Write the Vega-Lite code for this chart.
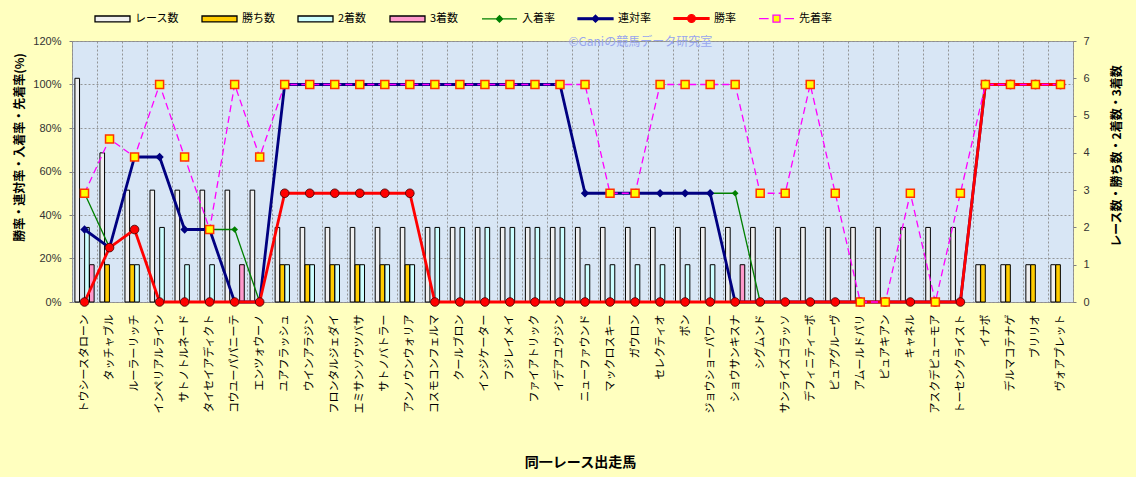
{
  "$schema": "https://vega.github.io/schema/vega-lite/v6.json",
  "width": 1001,
  "height": 261,
  "autosize": {"type": "none"},
  "padding": {"left": 72, "top": 41, "right": 63, "bottom": 175},
  "background": "#ffffbf",
  "config": {
    "view": {"fill": "#d8e6f5", "stroke": "#9a9a9a", "strokeWidth": 1},
    "font": "Noto Sans CJK JP"
  },
  "datasets": {
    "counts": [
      {"horse": "トウシースタローン", "series": "レース数", "value": 6},
      {"horse": "トウシースタローン", "series": "2着数", "value": 2},
      {"horse": "トウシースタローン", "series": "3着数", "value": 1},
      {"horse": "タッチャブル", "series": "レース数", "value": 4},
      {"horse": "タッチャブル", "series": "勝ち数", "value": 1},
      {"horse": "ルーラーリッチ", "series": "レース数", "value": 3},
      {"horse": "ルーラーリッチ", "series": "勝ち数", "value": 1},
      {"horse": "ルーラーリッチ", "series": "2着数", "value": 1},
      {"horse": "インペリアルライン", "series": "レース数", "value": 3},
      {"horse": "インペリアルライン", "series": "2着数", "value": 2},
      {"horse": "サトノトルネード", "series": "レース数", "value": 3},
      {"horse": "サトノトルネード", "series": "2着数", "value": 1},
      {"horse": "タイセイアディクト", "series": "レース数", "value": 3},
      {"horse": "タイセイアディクト", "series": "2着数", "value": 1},
      {"horse": "コウユーパパニーテ", "series": "レース数", "value": 3},
      {"horse": "コウユーパパニーテ", "series": "3着数", "value": 1},
      {"horse": "エンツォウーノ", "series": "レース数", "value": 3},
      {"horse": "ユアフラッシュ", "series": "レース数", "value": 2},
      {"horse": "ユアフラッシュ", "series": "勝ち数", "value": 1},
      {"horse": "ユアフラッシュ", "series": "2着数", "value": 1},
      {"horse": "ウインアラジン", "series": "レース数", "value": 2},
      {"horse": "ウインアラジン", "series": "勝ち数", "value": 1},
      {"horse": "ウインアラジン", "series": "2着数", "value": 1},
      {"horse": "フロンタルジェダイ", "series": "レース数", "value": 2},
      {"horse": "フロンタルジェダイ", "series": "勝ち数", "value": 1},
      {"horse": "フロンタルジェダイ", "series": "2着数", "value": 1},
      {"horse": "エミサンソウツバサ", "series": "レース数", "value": 2},
      {"horse": "エミサンソウツバサ", "series": "勝ち数", "value": 1},
      {"horse": "エミサンソウツバサ", "series": "2着数", "value": 1},
      {"horse": "サトノバトラー", "series": "レース数", "value": 2},
      {"horse": "サトノバトラー", "series": "勝ち数", "value": 1},
      {"horse": "サトノバトラー", "series": "2着数", "value": 1},
      {"horse": "アンノウンウォリア", "series": "レース数", "value": 2},
      {"horse": "アンノウンウォリア", "series": "勝ち数", "value": 1},
      {"horse": "アンノウンウォリア", "series": "2着数", "value": 1},
      {"horse": "コスモコンフェルマ", "series": "レース数", "value": 2},
      {"horse": "コスモコンフェルマ", "series": "2着数", "value": 2},
      {"horse": "クールブロン", "series": "レース数", "value": 2},
      {"horse": "クールブロン", "series": "2着数", "value": 2},
      {"horse": "インジケーター", "series": "レース数", "value": 2},
      {"horse": "インジケーター", "series": "2着数", "value": 2},
      {"horse": "フジレイメイ", "series": "レース数", "value": 2},
      {"horse": "フジレイメイ", "series": "2着数", "value": 2},
      {"horse": "ファイアトリック", "series": "レース数", "value": 2},
      {"horse": "ファイアトリック", "series": "2着数", "value": 2},
      {"horse": "イデアユウジン", "series": "レース数", "value": 2},
      {"horse": "イデアユウジン", "series": "2着数", "value": 2},
      {"horse": "ニューファウンド", "series": "レース数", "value": 2},
      {"horse": "ニューファウンド", "series": "2着数", "value": 1},
      {"horse": "マックロスキー", "series": "レース数", "value": 2},
      {"horse": "マックロスキー", "series": "2着数", "value": 1},
      {"horse": "ガウロン", "series": "レース数", "value": 2},
      {"horse": "ガウロン", "series": "2着数", "value": 1},
      {"horse": "セレクティオ", "series": "レース数", "value": 2},
      {"horse": "セレクティオ", "series": "2着数", "value": 1},
      {"horse": "ボン", "series": "レース数", "value": 2},
      {"horse": "ボン", "series": "2着数", "value": 1},
      {"horse": "ジョウショーパワー", "series": "レース数", "value": 2},
      {"horse": "ジョウショーパワー", "series": "2着数", "value": 1},
      {"horse": "ショウサンキスナ", "series": "レース数", "value": 2},
      {"horse": "ショウサンキスナ", "series": "3着数", "value": 1},
      {"horse": "シグムンド", "series": "レース数", "value": 2},
      {"horse": "サンライズゴラッソ", "series": "レース数", "value": 2},
      {"horse": "デフィニティーボ", "series": "レース数", "value": 2},
      {"horse": "ピュアグルーヴ", "series": "レース数", "value": 2},
      {"horse": "アムールドパリ", "series": "レース数", "value": 2},
      {"horse": "ピュアキアン", "series": "レース数", "value": 2},
      {"horse": "キャネル", "series": "レース数", "value": 2},
      {"horse": "アスクデピューモア", "series": "レース数", "value": 2},
      {"horse": "トーセンクライスト", "series": "レース数", "value": 2},
      {"horse": "イナボ", "series": "レース数", "value": 1},
      {"horse": "イナボ", "series": "勝ち数", "value": 1},
      {"horse": "デルマコテナゲ", "series": "レース数", "value": 1},
      {"horse": "デルマコテナゲ", "series": "勝ち数", "value": 1},
      {"horse": "ブリリオ", "series": "レース数", "value": 1},
      {"horse": "ブリリオ", "series": "勝ち数", "value": 1},
      {"horse": "ヴォアプレット", "series": "レース数", "value": 1},
      {"horse": "ヴォアプレット", "series": "勝ち数", "value": 1}
    ],
    "rates": [
      {"horse": "トウシースタローン", "series": "入着率", "value": 0.5},
      {"horse": "トウシースタローン", "series": "連対率", "value": 0.3333},
      {"horse": "トウシースタローン", "series": "勝率", "value": 0},
      {"horse": "トウシースタローン", "series": "先着率", "value": 0.5},
      {"horse": "タッチャブル", "series": "入着率", "value": 0.25},
      {"horse": "タッチャブル", "series": "連対率", "value": 0.25},
      {"horse": "タッチャブル", "series": "勝率", "value": 0.25},
      {"horse": "タッチャブル", "series": "先着率", "value": 0.75},
      {"horse": "ルーラーリッチ", "series": "入着率", "value": 0.6667},
      {"horse": "ルーラーリッチ", "series": "連対率", "value": 0.6667},
      {"horse": "ルーラーリッチ", "series": "勝率", "value": 0.3333},
      {"horse": "ルーラーリッチ", "series": "先着率", "value": 0.6667},
      {"horse": "インペリアルライン", "series": "入着率", "value": 0.6667},
      {"horse": "インペリアルライン", "series": "連対率", "value": 0.6667},
      {"horse": "インペリアルライン", "series": "勝率", "value": 0},
      {"horse": "インペリアルライン", "series": "先着率", "value": 1},
      {"horse": "サトノトルネード", "series": "入着率", "value": 0.3333},
      {"horse": "サトノトルネード", "series": "連対率", "value": 0.3333},
      {"horse": "サトノトルネード", "series": "勝率", "value": 0},
      {"horse": "サトノトルネード", "series": "先着率", "value": 0.6667},
      {"horse": "タイセイアディクト", "series": "入着率", "value": 0.3333},
      {"horse": "タイセイアディクト", "series": "連対率", "value": 0.3333},
      {"horse": "タイセイアディクト", "series": "勝率", "value": 0},
      {"horse": "タイセイアディクト", "series": "先着率", "value": 0.3333},
      {"horse": "コウユーパパニーテ", "series": "入着率", "value": 0.3333},
      {"horse": "コウユーパパニーテ", "series": "連対率", "value": 0},
      {"horse": "コウユーパパニーテ", "series": "勝率", "value": 0},
      {"horse": "コウユーパパニーテ", "series": "先着率", "value": 1},
      {"horse": "エンツォウーノ", "series": "入着率", "value": 0},
      {"horse": "エンツォウーノ", "series": "連対率", "value": 0},
      {"horse": "エンツォウーノ", "series": "勝率", "value": 0},
      {"horse": "エンツォウーノ", "series": "先着率", "value": 0.6667},
      {"horse": "ユアフラッシュ", "series": "入着率", "value": 1},
      {"horse": "ユアフラッシュ", "series": "連対率", "value": 1},
      {"horse": "ユアフラッシュ", "series": "勝率", "value": 0.5},
      {"horse": "ユアフラッシュ", "series": "先着率", "value": 1},
      {"horse": "ウインアラジン", "series": "入着率", "value": 1},
      {"horse": "ウインアラジン", "series": "連対率", "value": 1},
      {"horse": "ウインアラジン", "series": "勝率", "value": 0.5},
      {"horse": "ウインアラジン", "series": "先着率", "value": 1},
      {"horse": "フロンタルジェダイ", "series": "入着率", "value": 1},
      {"horse": "フロンタルジェダイ", "series": "連対率", "value": 1},
      {"horse": "フロンタルジェダイ", "series": "勝率", "value": 0.5},
      {"horse": "フロンタルジェダイ", "series": "先着率", "value": 1},
      {"horse": "エミサンソウツバサ", "series": "入着率", "value": 1},
      {"horse": "エミサンソウツバサ", "series": "連対率", "value": 1},
      {"horse": "エミサンソウツバサ", "series": "勝率", "value": 0.5},
      {"horse": "エミサンソウツバサ", "series": "先着率", "value": 1},
      {"horse": "サトノバトラー", "series": "入着率", "value": 1},
      {"horse": "サトノバトラー", "series": "連対率", "value": 1},
      {"horse": "サトノバトラー", "series": "勝率", "value": 0.5},
      {"horse": "サトノバトラー", "series": "先着率", "value": 1},
      {"horse": "アンノウンウォリア", "series": "入着率", "value": 1},
      {"horse": "アンノウンウォリア", "series": "連対率", "value": 1},
      {"horse": "アンノウンウォリア", "series": "勝率", "value": 0.5},
      {"horse": "アンノウンウォリア", "series": "先着率", "value": 1},
      {"horse": "コスモコンフェルマ", "series": "入着率", "value": 1},
      {"horse": "コスモコンフェルマ", "series": "連対率", "value": 1},
      {"horse": "コスモコンフェルマ", "series": "勝率", "value": 0},
      {"horse": "コスモコンフェルマ", "series": "先着率", "value": 1},
      {"horse": "クールブロン", "series": "入着率", "value": 1},
      {"horse": "クールブロン", "series": "連対率", "value": 1},
      {"horse": "クールブロン", "series": "勝率", "value": 0},
      {"horse": "クールブロン", "series": "先着率", "value": 1},
      {"horse": "インジケーター", "series": "入着率", "value": 1},
      {"horse": "インジケーター", "series": "連対率", "value": 1},
      {"horse": "インジケーター", "series": "勝率", "value": 0},
      {"horse": "インジケーター", "series": "先着率", "value": 1},
      {"horse": "フジレイメイ", "series": "入着率", "value": 1},
      {"horse": "フジレイメイ", "series": "連対率", "value": 1},
      {"horse": "フジレイメイ", "series": "勝率", "value": 0},
      {"horse": "フジレイメイ", "series": "先着率", "value": 1},
      {"horse": "ファイアトリック", "series": "入着率", "value": 1},
      {"horse": "ファイアトリック", "series": "連対率", "value": 1},
      {"horse": "ファイアトリック", "series": "勝率", "value": 0},
      {"horse": "ファイアトリック", "series": "先着率", "value": 1},
      {"horse": "イデアユウジン", "series": "入着率", "value": 1},
      {"horse": "イデアユウジン", "series": "連対率", "value": 1},
      {"horse": "イデアユウジン", "series": "勝率", "value": 0},
      {"horse": "イデアユウジン", "series": "先着率", "value": 1},
      {"horse": "ニューファウンド", "series": "入着率", "value": 0.5},
      {"horse": "ニューファウンド", "series": "連対率", "value": 0.5},
      {"horse": "ニューファウンド", "series": "勝率", "value": 0},
      {"horse": "ニューファウンド", "series": "先着率", "value": 1},
      {"horse": "マックロスキー", "series": "入着率", "value": 0.5},
      {"horse": "マックロスキー", "series": "連対率", "value": 0.5},
      {"horse": "マックロスキー", "series": "勝率", "value": 0},
      {"horse": "マックロスキー", "series": "先着率", "value": 0.5},
      {"horse": "ガウロン", "series": "入着率", "value": 0.5},
      {"horse": "ガウロン", "series": "連対率", "value": 0.5},
      {"horse": "ガウロン", "series": "勝率", "value": 0},
      {"horse": "ガウロン", "series": "先着率", "value": 0.5},
      {"horse": "セレクティオ", "series": "入着率", "value": 0.5},
      {"horse": "セレクティオ", "series": "連対率", "value": 0.5},
      {"horse": "セレクティオ", "series": "勝率", "value": 0},
      {"horse": "セレクティオ", "series": "先着率", "value": 1},
      {"horse": "ボン", "series": "入着率", "value": 0.5},
      {"horse": "ボン", "series": "連対率", "value": 0.5},
      {"horse": "ボン", "series": "勝率", "value": 0},
      {"horse": "ボン", "series": "先着率", "value": 1},
      {"horse": "ジョウショーパワー", "series": "入着率", "value": 0.5},
      {"horse": "ジョウショーパワー", "series": "連対率", "value": 0.5},
      {"horse": "ジョウショーパワー", "series": "勝率", "value": 0},
      {"horse": "ジョウショーパワー", "series": "先着率", "value": 1},
      {"horse": "ショウサンキスナ", "series": "入着率", "value": 0.5},
      {"horse": "ショウサンキスナ", "series": "連対率", "value": 0},
      {"horse": "ショウサンキスナ", "series": "勝率", "value": 0},
      {"horse": "ショウサンキスナ", "series": "先着率", "value": 1},
      {"horse": "シグムンド", "series": "入着率", "value": 0},
      {"horse": "シグムンド", "series": "連対率", "value": 0},
      {"horse": "シグムンド", "series": "勝率", "value": 0},
      {"horse": "シグムンド", "series": "先着率", "value": 0.5},
      {"horse": "サンライズゴラッソ", "series": "入着率", "value": 0},
      {"horse": "サンライズゴラッソ", "series": "連対率", "value": 0},
      {"horse": "サンライズゴラッソ", "series": "勝率", "value": 0},
      {"horse": "サンライズゴラッソ", "series": "先着率", "value": 0.5},
      {"horse": "デフィニティーボ", "series": "入着率", "value": 0},
      {"horse": "デフィニティーボ", "series": "連対率", "value": 0},
      {"horse": "デフィニティーボ", "series": "勝率", "value": 0},
      {"horse": "デフィニティーボ", "series": "先着率", "value": 1},
      {"horse": "ピュアグルーヴ", "series": "入着率", "value": 0},
      {"horse": "ピュアグルーヴ", "series": "連対率", "value": 0},
      {"horse": "ピュアグルーヴ", "series": "勝率", "value": 0},
      {"horse": "ピュアグルーヴ", "series": "先着率", "value": 0.5},
      {"horse": "アムールドパリ", "series": "入着率", "value": 0},
      {"horse": "アムールドパリ", "series": "連対率", "value": 0},
      {"horse": "アムールドパリ", "series": "勝率", "value": 0},
      {"horse": "アムールドパリ", "series": "先着率", "value": 0},
      {"horse": "ピュアキアン", "series": "入着率", "value": 0},
      {"horse": "ピュアキアン", "series": "連対率", "value": 0},
      {"horse": "ピュアキアン", "series": "勝率", "value": 0},
      {"horse": "ピュアキアン", "series": "先着率", "value": 0},
      {"horse": "キャネル", "series": "入着率", "value": 0},
      {"horse": "キャネル", "series": "連対率", "value": 0},
      {"horse": "キャネル", "series": "勝率", "value": 0},
      {"horse": "キャネル", "series": "先着率", "value": 0.5},
      {"horse": "アスクデピューモア", "series": "入着率", "value": 0},
      {"horse": "アスクデピューモア", "series": "連対率", "value": 0},
      {"horse": "アスクデピューモア", "series": "勝率", "value": 0},
      {"horse": "アスクデピューモア", "series": "先着率", "value": 0},
      {"horse": "トーセンクライスト", "series": "入着率", "value": 0},
      {"horse": "トーセンクライスト", "series": "連対率", "value": 0},
      {"horse": "トーセンクライスト", "series": "勝率", "value": 0},
      {"horse": "トーセンクライスト", "series": "先着率", "value": 0.5},
      {"horse": "イナボ", "series": "入着率", "value": 1},
      {"horse": "イナボ", "series": "連対率", "value": 1},
      {"horse": "イナボ", "series": "勝率", "value": 1},
      {"horse": "イナボ", "series": "先着率", "value": 1},
      {"horse": "デルマコテナゲ", "series": "入着率", "value": 1},
      {"horse": "デルマコテナゲ", "series": "連対率", "value": 1},
      {"horse": "デルマコテナゲ", "series": "勝率", "value": 1},
      {"horse": "デルマコテナゲ", "series": "先着率", "value": 1},
      {"horse": "ブリリオ", "series": "入着率", "value": 1},
      {"horse": "ブリリオ", "series": "連対率", "value": 1},
      {"horse": "ブリリオ", "series": "勝率", "value": 1},
      {"horse": "ブリリオ", "series": "先着率", "value": 1},
      {"horse": "ヴォアプレット", "series": "入着率", "value": 1},
      {"horse": "ヴォアプレット", "series": "連対率", "value": 1},
      {"horse": "ヴォアプレット", "series": "勝率", "value": 1},
      {"horse": "ヴォアプレット", "series": "先着率", "value": 1}
    ]
  },
  "layer": [
    {
      "data": {"name": "counts"},
      "mark": {"type": "bar", "stroke": "#000000", "strokeWidth": 1, "opacity": 1},
      "encoding": {
        "x": {
          "field": "horse", "type": "nominal", "sort": null,
          "scale": {"paddingInner": 0, "paddingOuter": 0},
          "axis": {
            "orient": "bottom", "title": "同一レース出走馬", "labelAngle": -90, "labelFontSize": 11, "labelColor": "#000000",
            "labelFont": "Noto Sans CJK JP", "ticks": false, "tickSize": 0, "domain": false, "grid": true,
            "tickBand": "extent", "gridColor": "#8c8c8c", "gridDash": [2, 2], "gridOpacity": 0.9,
            "labelPadding": 12, "labelLimit": 300,
            "titleFontSize": 14, "titleFontWeight": "bold", "titleColor": "#000000",
            "titleX": 508, "titleY": 160, "titleAlign": "center", "titleBaseline": "middle"
          }
        },
        "xOffset": {
          "field": "series", "type": "nominal",
          "scale": {"domain": ["レース数", "勝ち数", "2着数", "3着数"], "paddingInner": 0.05, "paddingOuter": 0.6}
        },
        "y": {
          "field": "value", "type": "quantitative",
          "scale": {"domain": [0, 7]},
          "axis": {
            "orient": "right", "title": "レース数・勝ち数・2着数・3着数", "values": [0, 1, 2, 3, 4, 5, 6, 7],
            "grid": false, "domain": false, "tickSize": 3, "tickColor": "#808080", "labelPadding": 7,
            "labelFontSize": 11, "labelFont": "Liberation Sans", "labelColor": "#333333",
            "titleFontSize": 12, "titleFontWeight": "bold", "titleColor": "#000000",
            "titleX": 43.5, "titleY": 114.5, "titleAngle": -90, "titleAlign": "center", "titleBaseline": "middle"
          }
        },
        "fill": {
          "field": "series", "type": "nominal",
          "scale": {
            "domain": ["レース数", "勝ち数", "2着数", "3着数", "入着率", "連対率", "勝率", "先着率"],
            "range": ["#f0f0f0", "#ffcc00", "#ccffff", "#ff99cc", "#008000", "#000080", "#ff0000", "#ffff00"]
          }
        }
      }
    },
    {
      "data": {"name": "rates"},
      "encoding": {
        "x": {
          "field": "horse", "type": "nominal", "sort": null,
          "axis": {
            "orient": "top", "title": "©Ganiの競馬データ研究室", "labels": false, "ticks": false, "domain": false, "grid": false,
            "titleFontSize": 12, "titleFontWeight": "normal", "titleColor": "#99a6ee", "titleFont": "Noto Sans CJK JP",
            "titleX": 496, "titleY": 0, "titleAlign": "left", "titleBaseline": "middle"
          }
        },
        "y": {
          "field": "value", "type": "quantitative",
          "scale": {"domain": [0, 1.2]},
          "axis": {
            "orient": "left", "title": "勝率・連対率・入着率・先着率(%)", "values": [0, 0.2, 0.4, 0.6, 0.8, 1, 1.2],
            "format": ".0%", "grid": true, "gridColor": "#8c8c8c", "gridDash": [2, 2], "gridOpacity": 0.9,
            "domain": false, "tickSize": 3, "tickColor": "#808080", "labelPadding": 8,
            "labelFontSize": 11, "labelFont": "Liberation Sans", "labelColor": "#333333",
            "titleFontSize": 12, "titleFontWeight": "bold", "titleColor": "#000000",
            "titleX": -53, "titleY": 106, "titleAngle": -90, "titleAlign": "center", "titleBaseline": "middle"
          }
        }
      },
      "layer": [
        {"transform": [{"filter": "datum.series === '入着率'"}], "mark": {"type": "line", "color": "#008000", "strokeWidth": 1.3}},
        {"transform": [{"filter": "datum.series === '連対率'"}], "mark": {"type": "line", "color": "#000080", "strokeWidth": 2.8}},
        {"transform": [{"filter": "datum.series === '勝率'"}], "mark": {"type": "line", "color": "#ff0000", "strokeWidth": 2.8}},
        {"transform": [{"filter": "datum.series === '先着率'"}], "mark": {"type": "line", "color": "#ff00ff", "strokeWidth": 1.3, "strokeDash": [7, 4]}},
        {"transform": [{"filter": "datum.series === '入着率'"}], "mark": {"type": "point", "shape": "diamond", "filled": true, "color": "#008000", "size": 45, "opacity": 1}},
        {"transform": [{"filter": "datum.series === '連対率'"}], "mark": {"type": "point", "shape": "diamond", "filled": true, "color": "#000080", "size": 70, "opacity": 1}},
        {"transform": [{"filter": "datum.series === '勝率'"}], "mark": {"type": "point", "shape": "circle", "filled": true, "fill": "#ff0000", "stroke": "#3a0000", "strokeWidth": 0.8, "size": 75, "opacity": 1}},
        {"transform": [{"filter": "datum.series === '先着率'"}], "mark": {"type": "point", "shape": "square", "filled": true, "fill": "#ffff00", "stroke": "#ff3300", "strokeWidth": 1.5, "size": 64, "opacity": 1}},
        {
          "transform": [{"filter": "false"}],
          "mark": {"type": "point", "filled": true, "opacity": 1},
          "encoding": {
            "fill": {
              "field": "series", "type": "nominal",
              "scale": {
                "domain": ["レース数", "勝ち数", "2着数", "3着数", "入着率", "連対率", "勝率", "先着率"],
                "range": ["#f0f0f0", "#ffcc00", "#ccffff", "#ff99cc", "#008000", "#000080", "#ff0000", "#ffff00"]
              },
              "legend": {
                "orient": "none", "legendX": 22, "legendY": -41, "direction": "horizontal", "title": null,
                "symbolSize": 1225, "symbolStrokeWidth": 1.3, "symbolOpacity": 1, "labelFontSize": 11, "labelOffset": 4,
                "columnPadding": 20, "padding": 0, "labelColor": "#000000", "labelFont": "Noto Sans CJK JP"
              }
            },
            "stroke": {
              "field": "series", "type": "nominal",
              "scale": {
                "domain": ["レース数", "勝ち数", "2着数", "3着数", "入着率", "連対率", "勝率", "先着率"],
                "range": ["#000000", "#000000", "#000000", "#000000", "#008000", "#000080", "#ff0000", "#ff00ff"]
              }
            },
            "shape": {
              "field": "series", "type": "nominal",
              "scale": {
                "domain": ["レース数", "勝ち数", "2着数", "3着数", "入着率", "連対率", "勝率", "先着率"],
                "range": [
                  "M-1,-0.17H1V0.17H-1Z",
                  "M-1,-0.17H1V0.17H-1Z",
                  "M-1,-0.17H1V0.17H-1Z",
                  "M-1,-0.17H1V0.17H-1Z",
                  "M-1,0H1M0,-0.18L0.18,0L0,0.18L-0.18,0Z",
                  "M-1,-0.05H1V0.05H-1ZM0,-0.2L0.2,0L0,0.2L-0.2,0Z",
                  "M-1,-0.05H1V0.05H-1ZM0.22,0A0.22,0.22 0 1,1 -0.22,0A0.22,0.22 0 1,1 0.22,0Z",
                  "M-1,0H-0.45M0.45,0H1M-0.2,-0.2H0.2V0.2H-0.2Z"
                ]
              }
            }
          }
        }
      ]
    }
  ],
  "resolve": {"scale": {"y": "independent"}, "axis": {"x": "independent"}}
}
